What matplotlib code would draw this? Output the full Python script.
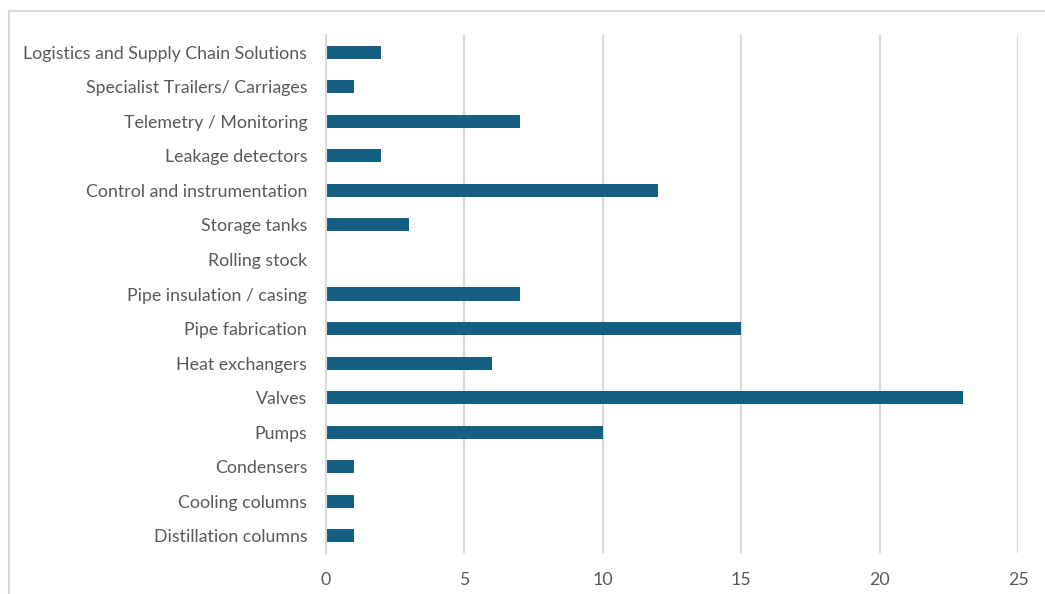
import matplotlib.pyplot as plt
from matplotlib.patches import Rectangle

# categories listed bottom to top
categories = [
    "Distillation columns",
    "Cooling columns",
    "Condensers",
    "Pumps",
    "Valves",
    "Heat exchangers",
    "Pipe fabrication",
    "Pipe insulation / casing",
    "Rolling stock",
    "Storage tanks",
    "Control and instrumentation",
    "Leakage detectors",
    "Telemetry / Monitoring",
    "Specialist Trailers/ Carriages",
    "Logistics and Supply Chain Solutions",
]
counts = [1, 1, 1, 10, 23, 6, 15, 7, 0, 3, 12, 2, 7, 1, 2]
x_ticks = [0, 5, 10, 15, 20, 25]

BAR_COLOR = "#156082"
GRID_COLOR = "#d9d9d9"
TEXT_COLOR = "#595959"

plt.rcParams["font.family"] = ["Lato", "DejaVu Sans"]

fig = plt.figure(figsize=(10.45, 5.94), dpi=100)
ax = fig.add_axes([326 / 1045, 1 - 553 / 594, (1018 - 326) / 1045, (553 - 35) / 594])

ax.barh(range(len(categories)), counts, height=0.38, color=BAR_COLOR, zorder=3)

ax.set_xlim(0, 25)
ax.set_ylim(-0.5, len(categories) - 0.5)
ax.set_xticks(x_ticks)
ax.set_yticks(range(len(categories)))
ax.set_yticklabels(categories)

ax.grid(axis="x", color=GRID_COLOR, linewidth=1.5, zorder=0)
for side in ["top", "right", "bottom"]:
    ax.spines[side].set_visible(False)
ax.spines["left"].set_color(GRID_COLOR)
ax.spines["left"].set_linewidth(1.5)
ax.spines["left"].set_zorder(4)

ax.tick_params(axis="both", length=0, colors=TEXT_COLOR, labelsize=12.8)
ax.tick_params(axis="y", pad=13.5)
ax.tick_params(axis="x", pad=14)

# outer chart frame
fig.patches.append(Rectangle((8.5 / 1045, -0.1), 1.2, 1 - 10.5 / 594 + 0.1,
                             transform=fig.transFigure, fill=False,
                             edgecolor=GRID_COLOR, linewidth=1.5))

fig.savefig("out.png", dpi=100)
